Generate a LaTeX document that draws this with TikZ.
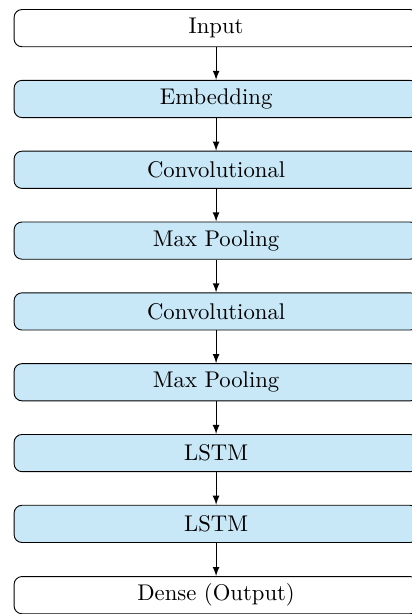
\documentclass[tikz,border=0pt]{standalone}
\usetikzlibrary{arrows}
\definecolor{layerblue}{RGB}{200,232,247}
\begin{document}
\begin{tikzpicture}[
	layer/.style={draw, rounded corners=3.5pt, minimum width=178pt, minimum height=16.4pt, inner sep=0pt},
	hidden/.style={layer, fill=layerblue},
	>=latex]
	\useasboundingbox (0,0) rectangle (181.5pt,-270.5pt);
	\node[layer] (1) at (95.2pt,-12.4pt) {Input};
	\node[hidden] (2) at (95.2pt,-43.6pt) {Embedding};
	\node[hidden] (3) at (95.2pt,-74.8pt) {Convolutional};
	\node[hidden] (4) at (95.2pt,-106pt) {Max Pooling};
	\node[hidden] (5) at (95.2pt,-137.2pt) {Convolutional};
	\node[hidden] (6) at (95.2pt,-168.4pt) {Max Pooling};
	\node[hidden] (7) at (95.2pt,-199.6pt) {LSTM};
	\node[hidden] (8) at (95.2pt,-230.8pt) {LSTM};
	\node[layer] (9) at (95.2pt,-262.2pt) {Dense (Output)};
	\draw[->] (1) -- (2);
	\draw[->] (2) -- (3);
	\draw[->] (3) -- (4);
	\draw[->] (4) -- (5);
	\draw[->] (5) -- (6);
	\draw[->] (6) -- (7);
	\draw[->] (7) -- (8);
	\draw[->] (8) -- (9);
\end{tikzpicture}
\end{document}
